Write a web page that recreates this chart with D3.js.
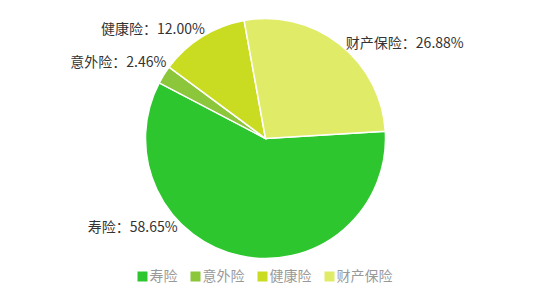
<!DOCTYPE html>
<html lang="zh">
<head>
<meta charset="UTF-8">
<script src="https://d3js.org/d3.v7.min.js"></script>
<style>
  body { margin: 0; background: #fff; }
  svg { display: block; font-family: "Noto Sans CJK SC", "Microsoft YaHei", sans-serif; }
</style>
</head>
<body>
<div id="chart"></div>
<script>
// data
const categories = ["寿险", "意外险", "健康险", "财产保险"];
const shares = [58.65, 2.46, 12.00, 26.88];
const colors = ["#2ec62e", "#8cc63a", "#c9dc22", "#e0ec68"];
// where each label sits around the pie (degrees clockwise from 12 o'clock)
const labelAngles = [224.7, 307.5, 331, 40];

const width = 538, height = 302;
const cx = 265.5, cy = 138.5, radius = 120;
const rad = Math.PI / 180;
const start = 86.5 * rad;

const svg = d3.select("#chart").append("svg")
  .attr("width", width)
  .attr("height", height);

const pie = d3.pie()
  .sort(null)
  .value(d => d)
  .startAngle(start)
  .endAngle(start + 2 * Math.PI);

const arc = d3.arc().innerRadius(0).outerRadius(radius);

const g = svg.append("g").attr("transform", `translate(${cx},${cy})`);

g.selectAll("path")
  .data(pie(shares))
  .enter()
  .append("path")
  .attr("d", arc)
  .attr("fill", (d, i) => colors[i])
  .attr("stroke", "#fff")
  .attr("stroke-width", 1.5);

// labels
g.selectAll("text.lbl")
  .data(categories)
  .enter()
  .append("text")
  .attr("class", "lbl")
  .attr("x", (d, i) => 125 * Math.sin(labelAngles[i] * rad))
  .attr("y", (d, i) => -125 * Math.cos(labelAngles[i] * rad))
  .attr("dy", "0.35em")
  .attr("text-anchor", (d, i) => Math.sin(labelAngles[i] * rad) < 0 ? "end" : "start")
  .attr("fill", "#333")
  .style("font-size", "14px")
  .text((d, i) => d + "：" + shares[i].toFixed(2) + "%");

// legend
const legend = svg.append("g");
let x = 0;
categories.forEach((c, i) => {
  const item = legend.append("g").attr("transform", `translate(${x},0)`);
  item.append("rect")
    .attr("x", 0).attr("y", -5)
    .attr("width", 10).attr("height", 10)
    .attr("fill", colors[i]);
  const t = item.append("text")
    .attr("x", 12)
    .attr("dy", "0.35em")
    .attr("fill", "#999")
    .style("font-size", "14px")
    .text(c);
  x += 12 + t.node().getComputedTextLength() + 13;
});
const legendW = x - 13;
legend.attr("transform", `translate(${265 - legendW / 2},276.5)`);
</script>
</body>
</html>
